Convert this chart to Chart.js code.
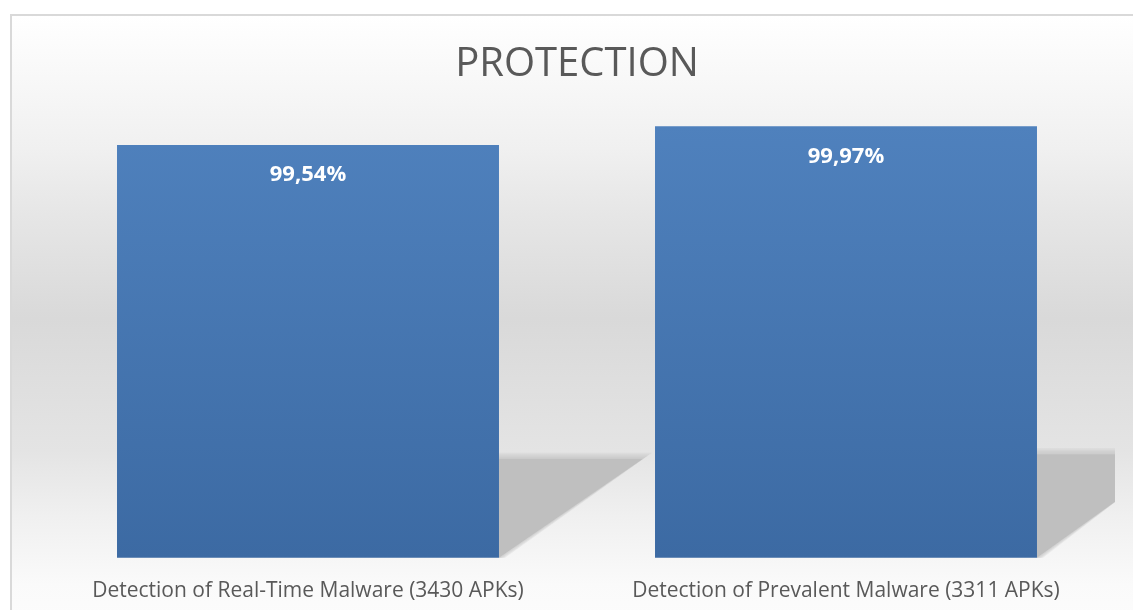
<!DOCTYPE html>
<html>
<head>
<meta charset="utf-8">
<script src="https://cdn.jsdelivr.net/npm/chart.js@4"></script>
<style>
  html, body { margin: 0; padding: 0; background: #fff; overflow: hidden; }
  .chartBox {
    position: absolute;
    left: 10px;
    top: 14px;
    width: 1130px;
    height: 604px;
    overflow: hidden;
    border-left: 2px solid #d9d9d9;
    border-top: 2px solid #d9d9d9;
    background: linear-gradient(to bottom, #ffffff 0%, #f0f0f0 22%, #e6e6e6 33%, #d9d9d9 50%, #e4e4e4 72%, #f0f0f0 83%, #fafafa 94%, #fcfcfc 100%);
  }
  canvas { display: block; }
</style>
</head>
<body>
<div class="chartBox">
  <canvas id="myChart" width="1130" height="611"></canvas>
</div>
<script>
let categories = [
  "Detection of Real-Time Malware (3430 APKs)",
  "Detection of Prevalent Malware (3311 APKs)",
];
let detectionRate = [99.54, 99.97];
let axisMin = 90;
let axisMax = 100;
let barShare = 0.71;

// shadow to the bottom right of a bar, soft edge from stacked alpha fills
let drawShadow = (ctx, area, cx, barTop, base, width) => {
  let right = cx + width / 2;
  let top = base - (base - barTop) * 0.24;
  let far = right + width * 0.377;
  for (let k = 4; k >= 0; k--) {
    let s = k * 1.5;
    let farS = far + s * 1.5;
    ctx.globalAlpha = k == 0 ? 1 : 0.22;
    ctx.fillStyle = "#bfbfbf";
    ctx.beginPath();
    ctx.moveTo(right, top - s);
    ctx.lineTo(Math.min(farS, area.right), top - s);
    if (farS > area.right) {
      ctx.lineTo(area.right, top - s + ((farS - area.right) * (base - top)) / (far - right));
    }
    ctx.lineTo(right + s, base);
    ctx.lineTo(right, base);
    ctx.closePath();
    ctx.fill();
  }
  ctx.globalAlpha = 1;
};

let barExtras = {
  id: "barExtras",
  afterDatasetsDraw(chart) {
    let ctx = chart.ctx;
    let area = chart.chartArea;
    let xs = chart.scales.x;
    let ys = chart.scales.y;
    let width = (xs.width / categories.length) * barShare;
    let base = ys.getPixelForValue(axisMin);
    ctx.save();
    detectionRate.forEach((v, i) => {
      drawShadow(ctx, area, xs.getPixelForValue(i), ys.getPixelForValue(v), base, width);
    });
    ctx.font = "bold 22px 'Open Sans'";
    ctx.fillStyle = "#ffffff";
    ctx.textAlign = "center";
    ctx.textBaseline = "middle";
    detectionRate.forEach((v, i) => {
      let text = v.toFixed(2).replace(".", ",") + "%";
      ctx.fillText(text, xs.getPixelForValue(i), ys.getPixelForValue(v) + 30);
    });
    ctx.restore();
  },
};

const barChart = document.getElementById("myChart").getContext("2d");
const barChartValue = new Chart(barChart, {
  type: "bar",
  data: {
    labels: categories,
    datasets: [
      {
        label: "Protection",
        data: detectionRate,
        backgroundColor: (context) => {
          let area = context.chart.chartArea;
          if (!area) return "#4a7ab5";
          let g = context.chart.ctx.createLinearGradient(0, area.top, 0, area.bottom);
          g.addColorStop(0, "#4f81bd");
          g.addColorStop(1, "#3c6aa3");
          return g;
        },
        borderWidth: 0,
        barPercentage: barShare,
        categoryPercentage: 1,
      },
    ],
  },
  options: {
    responsive: false,
    animation: false,
    layout: {
      padding: { left: 27, right: 27, top: 0, bottom: 10 },
    },
    plugins: {
      legend: { display: false },
      tooltip: { enabled: false },
      title: {
        display: true,
        text: "PROTECTION",
        color: "#595959",
        font: { family: "'Open Sans'", size: 40, weight: "normal" },
        padding: { top: 25, bottom: 36 },
      },
    },
    scales: {
      x: {
        grid: { display: false },
        border: { display: false },
        ticks: {
          color: "#595959",
          font: { family: "'Open Sans'", size: 21 },
          padding: 13,
          maxRotation: 0,
        },
      },
      y: {
        display: false,
        min: axisMin,
        max: axisMax,
      },
    },
  },
  plugins: [barExtras],
});
</script>
</body>
</html>
